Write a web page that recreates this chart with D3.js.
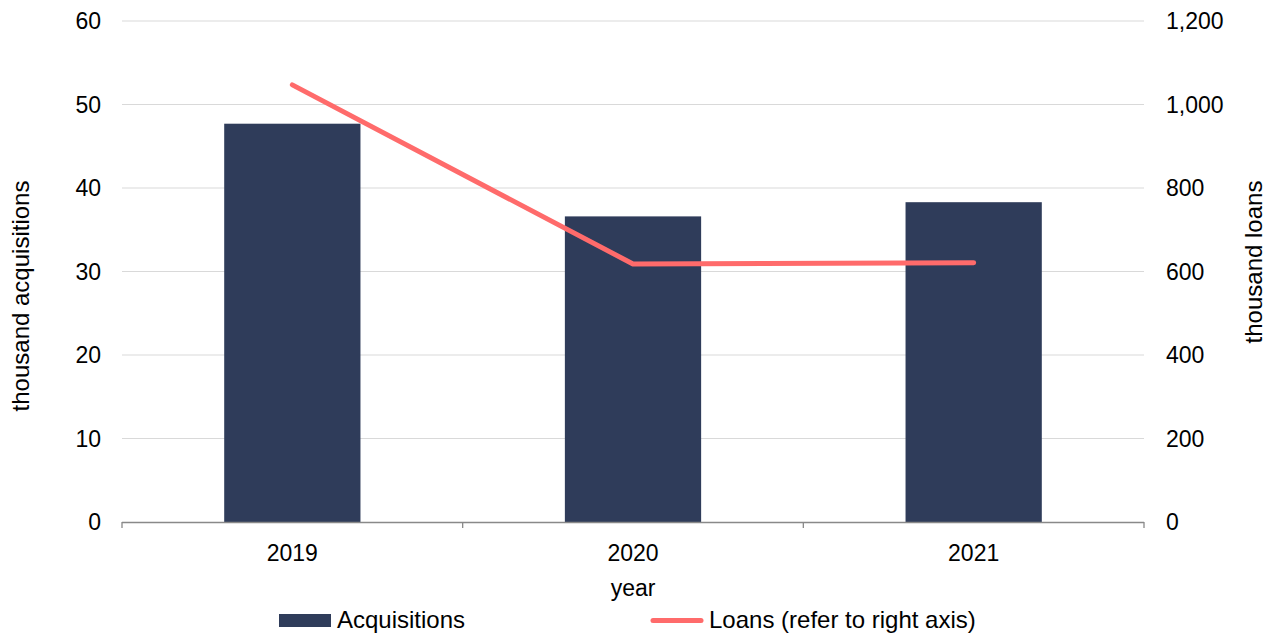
<!DOCTYPE html>
<html>
<head>
<meta charset="utf-8">
<script src="https://cdn.jsdelivr.net/npm/d3@7"></script>
<style>
  body { margin: 0; background: #fff; }
  svg text { font-family: "Liberation Sans", Arial, sans-serif; fill: #000; }
</style>
</head>
<body>
<svg width="1273" height="637"></svg>
<script>
var years = ["2019", "2020", "2021"]
var acquisitions = [47.7, 36.6, 38.3]
var loans = [1047, 618, 621]
var leftTicks = [0, 10, 20, 30, 40, 50, 60]
var rightTicks = [0, 200, 400, 600, 800, 1000, 1200]

var svg = d3.select("svg")
var plotLeft = 122, plotRight = 1144, plotTop = 21, plotBottom = 522

var xScale = d3.scaleBand().domain(years).range([plotLeft, plotRight])
    .paddingInner(0.6).paddingOuter(0.3)
var yLeft = d3.scaleLinear().domain([0, 60]).range([plotBottom, plotTop])
var yRight = d3.scaleLinear().domain([0, 1200]).range([plotBottom, plotTop])

// gridlines
svg.append("g").selectAll("line")
    .data(leftTicks.filter(function (d) { return d > 0 }))
    .enter().append("line")
    .attr("x1", plotLeft).attr("x2", plotRight)
    .attr("y1", function (d) { return yLeft(d) })
    .attr("y2", function (d) { return yLeft(d) })
    .attr("stroke", "#d9d9d9").attr("stroke-width", 1)

// bars
svg.append("g").selectAll("rect")
    .data(acquisitions)
    .enter().append("rect")
    .attr("x", function (d, i) { return xScale(years[i]) })
    .attr("y", function (d) { return yLeft(d) })
    .attr("width", xScale.bandwidth())
    .attr("height", function (d) { return plotBottom - yLeft(d) })
    .attr("fill", "#2f3c5a")

// x axis
var step = xScale.step()
var boundaries = [0, 1, 2, 3].map(function (i) { return plotLeft + i * step })
svg.append("line").attr("x1", plotLeft).attr("x2", plotRight)
    .attr("y1", plotBottom + 0.5).attr("y2", plotBottom + 0.5)
    .attr("stroke", "#898989").attr("stroke-width", 1.3)
svg.append("g").selectAll("line").data(boundaries).enter().append("line")
    .attr("x1", function (d) { return d }).attr("x2", function (d) { return d })
    .attr("y1", plotBottom).attr("y2", plotBottom + 6)
    .attr("stroke", "#898989").attr("stroke-width", 1.3)
svg.append("g").selectAll("text").data(years).enter().append("text")
    .attr("x", function (d) { return xScale(d) + xScale.bandwidth() / 2 })
    .attr("y", 561)
    .attr("text-anchor", "middle")
    .attr("font-size", 23)
    .text(function (d) { return d })

// left axis labels
svg.append("g").selectAll("text").data(leftTicks).enter().append("text")
    .attr("x", 101).attr("y", function (d) { return yLeft(d) + 8 })
    .attr("text-anchor", "end").attr("font-size", 23)
    .text(function (d) { return d })

// right axis labels
var fmt = d3.format(",")
svg.append("g").selectAll("text").data(rightTicks).enter().append("text")
    .attr("x", 1166).attr("y", function (d) { return yRight(d) + 8 })
    .attr("text-anchor", "start").attr("font-size", 23)
    .text(function (d) { return fmt(d) })

// line
var line = d3.line()
    .x(function (d, i) { return xScale(years[i]) + xScale.bandwidth() / 2 })
    .y(function (d) { return yRight(d) })
svg.append("path").datum(loans)
    .attr("d", line)
    .attr("fill", "none")
    .attr("stroke", "#ff6b6b")
    .attr("stroke-width", 5)
    .attr("stroke-linecap", "round")
    .attr("stroke-linejoin", "round")

// axis titles
svg.append("text").attr("transform", "translate(29,296) rotate(-90)")
    .attr("text-anchor", "middle").attr("font-size", 24)
    .text("thousand acquisitions")
svg.append("text").attr("transform", "translate(1262,262) rotate(-90)")
    .attr("text-anchor", "middle").attr("font-size", 24)
    .text("thousand loans")
svg.append("text").attr("x", 633).attr("y", 596)
    .attr("text-anchor", "middle").attr("font-size", 23)
    .text("year")

// legend
svg.append("rect").attr("x", 279).attr("y", 614).attr("width", 52).attr("height", 13)
    .attr("fill", "#2f3c5a")
svg.append("text").attr("x", 337).attr("y", 628).attr("font-size", 24).text("Acquisitions")
svg.append("line").attr("x1", 653).attr("x2", 701).attr("y1", 620.5).attr("y2", 620.5)
    .attr("stroke", "#ff6b6b").attr("stroke-width", 5).attr("stroke-linecap", "round")
svg.append("text").attr("x", 709).attr("y", 628).attr("font-size", 24).text("Loans (refer to right axis)")
</script>
</body>
</html>
